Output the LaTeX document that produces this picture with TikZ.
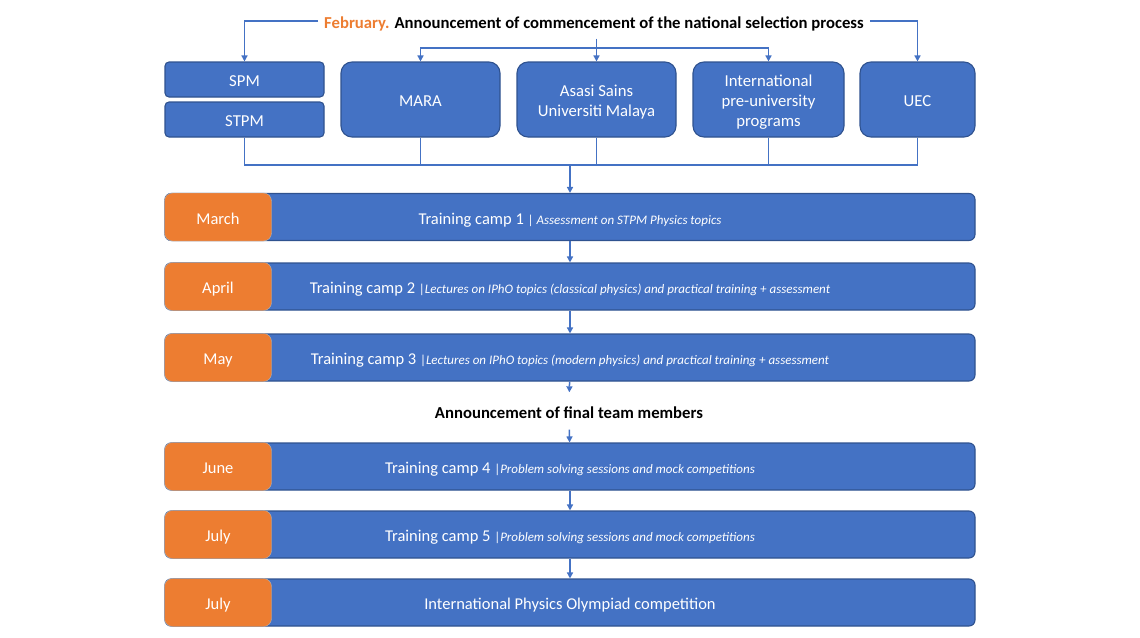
\documentclass[tikz,border=0pt]{standalone}
\usepackage{fontspec}
\setmainfont{Carlito}
\usetikzlibrary{arrows.meta}
\definecolor{bfill}{HTML}{4472C4}
\definecolor{bdraw}{HTML}{2F528F}
\definecolor{ofill}{HTML}{ED7D31}
\definecolor{hdor}{HTML}{ED7D31}
\newcommand\mystrut{\rule[-4.5pt]{0pt}{23pt}}
\newcommand\mystrutb{\rule[-4.5pt]{0pt}{4.5pt}}
\newcommand\firstrow{\rule{0pt}{19pt}}
\begin{document}
\begin{tikzpicture}[x=1pt,y=-1pt,
  box/.style={draw=bdraw, fill=bfill, line width=1.1pt, text=white, font=\fontsize{16.7}{20}\selectfont, align=center, inner sep=0pt, execute at begin node=\mystrut, execute at end node=\mystrutb},
  smallbox/.style={box, rounded corners=4pt, minimum width=159pt, minimum height=35pt},
  bigbox/.style={box, rounded corners=11pt, minimum height=75pt},
  multi/.style={execute at begin node={}, execute at end node={}},
  bar/.style={box, rounded corners=6pt, minimum width=810pt, minimum height=47pt, font=\fontsize{16.5}{20}\selectfont},
  month/.style={fill=ofill, draw=gray!60, line width=0.4pt, rounded corners=8pt, text=white, font=\fontsize{16.5}{20}\selectfont, minimum width=107pt, minimum height=48pt, inner sep=0pt, execute at begin node=\mystrut},
  head/.style={font=\fontsize{16.7}{20}\selectfont\bfseries, inner sep=6pt, execute at begin node=\mystrut},
  conn/.style={draw=bfill, line width=1.5pt},
  arr/.style={conn, -{Triangle[length=6pt,width=6pt]}}
]
\useasboundingbox (0,0) rectangle (1140,637);

% header
\node[head] (hd) at (594,21) {\textcolor{hdor}{February.} Announcement of commencement of the national selection process};

% top boxes
\node[smallbox] (spm) at (244.5,79.5) {SPM};
\node[smallbox] (stpm) at (244.5,119.5) {STPM};
\node[bigbox, minimum width=159pt] (mara) at (420.5,99.5) {MARA};
\node[bigbox, multi, minimum width=159pt] (asasi) at (596.5,99.5) {\begin{tabular}{@{}c@{}}\firstrow Asasi Sains\\Universiti Malaya\end{tabular}};
\node[bigbox, multi, minimum width=151pt] (intl) at (768.5,99.5) {\begin{tabular}{@{}c@{}}\firstrow International\\pre-university\\programs\end{tabular}};
\node[bigbox, minimum width=115pt] (uec) at (917.5,99.5) {UEC};

% header connectors
\draw[arr] (hd.west) -| (spm.north);
\draw[arr] (hd.east) -| (uec.north);
\coordinate (hb) at (596.5,48);
\draw[arr] (hd.south -| asasi.north) -- (asasi.north);
\draw[arr] (hb) -| (mara.north);
\draw[arr] (hb) -| (intl.north);

% junction below
\coordinate (jb) at (570,165);
\draw[conn] (stpm.south) -- (stpm.south |- jb) -- (uec.south |- jb) -- (uec.south);
\draw[conn] (mara.south) -- (mara.south |- jb);
\draw[conn] (asasi.south) -- (asasi.south |- jb);
\draw[conn] (intl.south) -- (intl.south |- jb);

% bars
\node[bar] (c1) at (570,217) {Training camp 1 {\fontsize{13}{14}\selectfont| \itshape Assessment on STPM Physics topics}};
\node[bar] (c2) at (570,286.5) {Training camp 2 {\fontsize{13}{14}\selectfont|\itshape Lectures on IPhO topics (classical physics) and practical training + assessment}};
\node[bar] (c3) at (570,357.5) {Training camp 3 {\fontsize{13}{14}\selectfont|\itshape Lectures on IPhO topics (modern physics) and practical training + assessment}};
\node[head, inner sep=7pt] (ann) at (569,411) {Announcement of final team members};
\node[bar] (c4) at (570,466.5) {Training camp 4 {\fontsize{13}{14}\selectfont|\itshape Problem solving sessions and mock competitions}};
\node[bar] (c5) at (570,534.5) {Training camp 5 {\fontsize{13}{14}\selectfont|\itshape Problem solving sessions and mock competitions}};
\node[bar] (c6) at (570,602.5) {International Physics Olympiad competition};

% months
\foreach \n/\y/\t in {m1/217/March, m2/286.5/April, m3/357.5/May, m4/466.5/June, m5/534.5/July, m6/602.5/July}{
  \node[month] (\n) at (218,\y) {\t};
}

% flow arrows
\draw[arr] (jb) -- (c1.north);
\draw[arr] (c1) -- (c2);
\draw[arr] (c2) -- (c3);
\draw[arr] (c3) -- (ann);
\draw[arr] (ann) -- (c4);
\draw[arr] (c4) -- (c5);
\draw[arr] (c5) -- (c6);
\end{tikzpicture}
\end{document}
